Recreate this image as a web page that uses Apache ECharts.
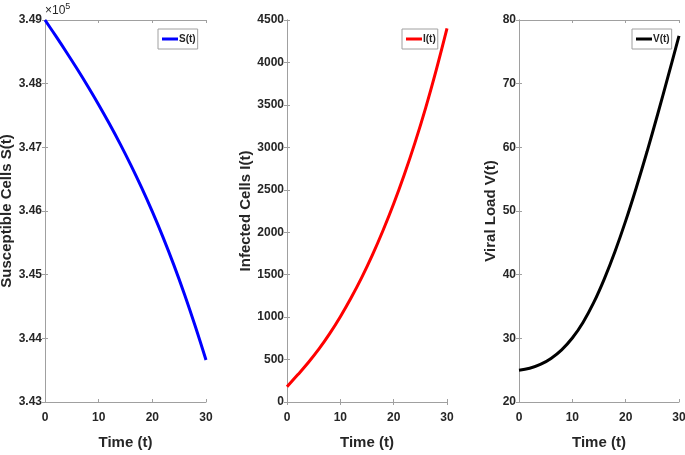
<!DOCTYPE html>
<html>
<head>
<meta charset="utf-8">
<script src="https://cdn.jsdelivr.net/npm/echarts@6/dist/echarts.min.js"></script>
<style>
html,body{margin:0;padding:0;background:#fff;}
#c{width:685px;height:455px;}
</style>
</head>
<body>
<div id="c"></div>
<script>
var timePoints = [0, 2, 4, 6, 8, 10, 12, 14, 16, 18, 20, 22, 24, 26, 28, 30];
var susceptible = [349000, 348750, 348494, 348230, 347956, 347670, 347370, 347054, 346720, 346366, 345989, 345586, 345154, 344689, 344189, 343659];
var infected = [180, 320, 465, 625, 805, 1005, 1225, 1465, 1730, 2020, 2335, 2680, 3055, 3465, 3915, 4400];
var viral = [25.0, 25.3, 25.9, 26.85, 28.2, 30.05, 32.5, 35.6, 39.35, 43.65, 48.45, 53.7, 59.3, 65.2, 71.3, 77.5];
var xTicks = [0, 10, 20, 30];
var yNames = ['Susceptible Cells S(t)', 'Infected Cells I(t)', 'Viral Load V(t)'];
var seriesNames = ['S(t)', 'I(t)', 'V(t)'];
var colors = ['#0000ff', '#ff0000', '#000000'];

var tickFont = '"Liberation Sans Narrow","Arial Narrow","Liberation Sans",Arial,sans-serif';
var nameFont = '"Liberation Sans",Arial,sans-serif';
var axisGray = '#a0a0a0';
var txt = '#262626';

var grids = [
  {left: 45, top: 20, width: 161, height: 382, outerBoundsMode: 'none', containLabel: false},
  {left: 287, top: 20, width: 160, height: 382, outerBoundsMode: 'none', containLabel: false},
  {left: 519, top: 20, width: 160, height: 382, outerBoundsMode: 'none', containLabel: false}
];
var yCfg = [
  {min: 343000, max: 349000, interval: 1000, fmt: function (v) { return (v / 1e5).toFixed(2); }},
  {min: 0, max: 4500, interval: 500, fmt: function (v) { return String(v); }},
  {min: 20, max: 80, interval: 10, fmt: function (v) { return String(v); }}
];
var dataSets = [susceptible, infected, viral];
var nameGaps = [24, 25, 21];

var xAxes = [], yAxes = [], series = [], legends = [];
var legendLeft = [158, 402, 632];
for (var i = 0; i < 3; i++) {
  var common = {
    type: 'value', gridIndex: i, min: xTicks[0], max: xTicks[xTicks.length - 1], interval: xTicks[1] - xTicks[0],
    axisLine: {show: true, lineStyle: {color: axisGray, width: 1}},
    axisTick: {show: true, inside: true, length: 3, lineStyle: {color: axisGray}},
    splitLine: {show: false}
  };
  xAxes.push(Object.assign({}, common, {
    position: 'bottom',
    name: 'Time (t)', nameLocation: 'middle', nameGap: 33,
    nameTextStyle: {fontFamily: tickFont, fontWeight: 'bold', fontSize: 15, color: txt},
    axisLabel: {fontFamily: tickFont, fontWeight: 'bold', fontSize: 12, color: txt, margin: 10}
  }));
  xAxes.push(Object.assign({}, common, {position: 'top', axisLabel: {show: false}}));
  var yc = {
    type: 'value', gridIndex: i, min: yCfg[i].min, max: yCfg[i].max, interval: yCfg[i].interval,
    axisLine: {show: true, lineStyle: {color: axisGray, width: 1}},
    axisTick: {show: true, inside: true, length: 3, lineStyle: {color: axisGray}},
    splitLine: {show: false}
  };
  yAxes.push(Object.assign({}, yc, {
    position: 'left',
    name: yNames[i], nameLocation: 'middle', nameRotate: 90,
    nameGap: nameGaps[i],
    nameTextStyle: {fontFamily: nameFont, fontWeight: 'bold', fontSize: 15, color: txt},
    axisLabel: {fontFamily: tickFont, fontWeight: 'bold', fontSize: 12, color: txt, margin: 3, formatter: yCfg[i].fmt}
  }));
  yAxes.push(Object.assign({}, yc, {position: 'right', axisLabel: {show: false}}));
  var pts = timePoints.map(function (t, k) { return [t, dataSets[i][k]]; });
  series.push({
    name: seriesNames[i], type: 'line', xAxisIndex: 2 * i, yAxisIndex: 2 * i,
    data: pts, smooth: 0.4, symbol: 'none', showSymbol: false,
    lineStyle: {color: colors[i], width: 3}, itemStyle: {color: colors[i]},
    clip: false, animation: false
  });
  legends.push({
    data: [seriesNames[i]], left: legendLeft[i], top: 29,
    orient: 'vertical', icon: 'rect', itemWidth: 16, itemHeight: 3, itemGap: 0,
    padding: [5, 2, 5, 4], borderColor: axisGray, borderWidth: 1, backgroundColor: '#fff',
    textStyle: {fontFamily: tickFont, fontWeight: 'bold', fontSize: 10, color: txt, padding: [0, 0, 0, -4]},
    selectedMode: false
  });
}

var chart = echarts.init(document.getElementById('c'), null, {renderer: 'canvas'});
chart.setOption({
  animation: false,
  backgroundColor: '#ffffff',
  grid: grids,
  xAxis: xAxes,
  yAxis: yAxes,
  legend: legends,
  series: series,
  graphic: [{
    type: 'text', left: 45, top: 2,
    style: {
      text: '{a|×10}{b|5}',
      rich: {
        a: {fontFamily: tickFont, fontSize: 12, fill: txt, verticalAlign: 'bottom'},
        b: {fontFamily: tickFont, fontSize: 9, fill: txt, verticalAlign: 'top', padding: [0, 0, 6, 0]}
      }
    }
  }]
});
</script>
</body>
</html>
